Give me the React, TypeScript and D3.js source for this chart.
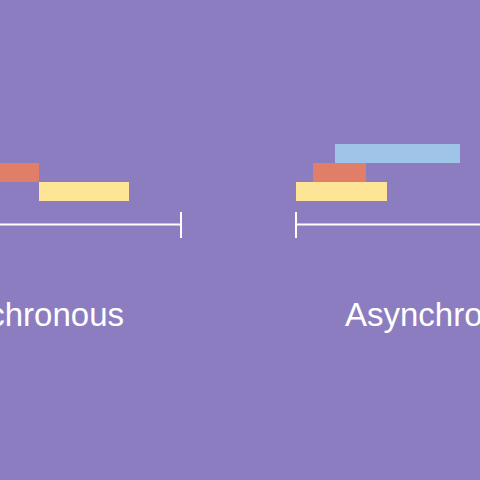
import React from "react";
import * as d3 from "d3";

const panels = ["Synchronous", "Asynchronous"];
const tasks = ["blue", "orange", "yellow"];
const syncStart = [0, 105, 158];
const syncEnd = [105, 158, 248];
const asyncStart = [39, 17, 0];
const asyncEnd = [164, 70, 91];
const colors = ["#a0c4e8", "#e07e68", "#fde497"];

export default function App() {
  const x0 = [-119, 296];
  const rows = d3.scaleBand().domain(tasks).range([144, 201]);
  const len = d3.scaleLinear().domain([0, 300]).range([0, 300]);
  const starts = [syncStart, asyncStart];
  const ends = [syncEnd, asyncEnd];
  return (
    <svg width={480} height={480} style={{ position: "absolute", left: 0, top: 0 }}>
      <rect width={480} height={480} fill="#8c7dc1" />
      {panels.map((p, pi) => (
        <g key={p}>
          {tasks.map((t, i) => (
            <rect key={t} x={x0[pi] + len(starts[pi][i])} y={rows(t)}
              width={len(ends[pi][i]) - len(starts[pi][i])} height={rows.bandwidth()} fill={colors[i]} />
          ))}
          <line x1={x0[pi]} x2={x0[pi] + len(300)} y1={224.5} y2={224.5} stroke="#fff" strokeWidth={2} />
          <line x1={x0[pi] + (pi === 0 ? len(300) : 0)} x2={x0[pi] + (pi === 0 ? len(300) : 0)} y1={212} y2={238} stroke="#fff" strokeWidth={2} />
          <text x={pi === 0 ? 124 : 345} y={326} textAnchor={pi === 0 ? "end" : "start"}
            fill="#fff" fontFamily="Liberation Sans, Arial, sans-serif" fontSize={33}>{p}</text>
        </g>
      ))}
    </svg>
  );
}
